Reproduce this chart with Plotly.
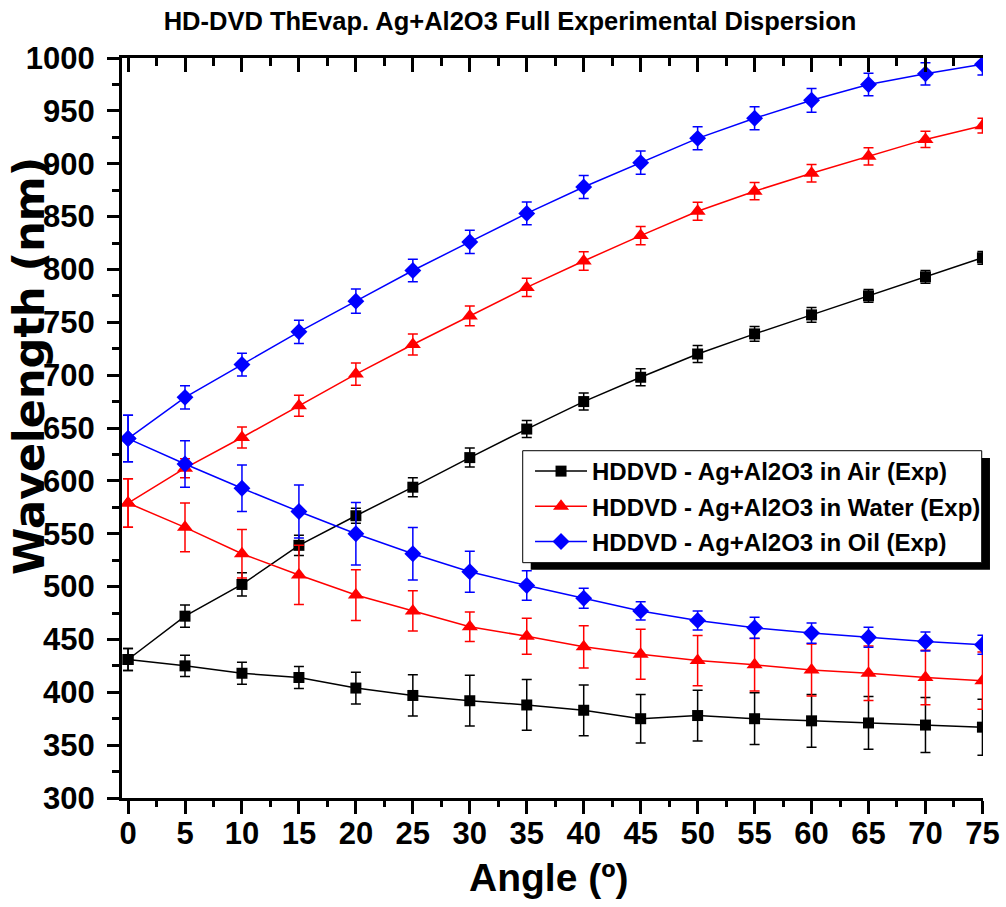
import plotly.graph_objects as go

# Angle of incidence (degrees)
angles = [0, 5, 10, 15, 20, 25, 30, 35, 40, 45, 50, 55, 60, 65, 70, 75]

# Air: upper and lower dispersion branches (nm) with error bars
air_up = [431, 472, 502, 539, 567, 594, 622, 649, 675, 698, 720, 739, 757, 775, 793, 811]
air_up_err = [10.5, 10.5, 11, 9.5, 7, 9, 9, 8, 8, 8, 8, 7, 7, 6, 6, 6]
air_lo = [431, 425, 418, 414, 404, 397, 392, 388, 383, 375, 378, 375, 373, 371, 369, 367]
air_lo_err = [10.5, 10, 10.5, 10.5, 15, 19.5, 24, 24, 24, 23, 24, 24.5, 25, 25, 26, 26.5]

# Water
water_up = [579, 612, 641, 671, 701, 729, 756, 783, 808, 832, 855, 874, 891, 907, 923, 936]
water_up_err = [23, 9, 10, 10, 10.5, 10, 9.3, 8.7, 8.7, 8.7, 8.5, 8.2, 8.2, 8.2, 7.6, 7]
water_lo = [579, 556, 531, 511, 492, 477, 462, 453, 443, 436, 430, 426, 421, 418, 414, 411]
water_lo_err = [23, 23, 23, 28, 24, 19, 14, 17, 20, 23.7, 23.7, 24.8, 24.6, 25.7, 25.7, 27]

# Oil
oil_up = [640, 679, 710, 741, 770, 799, 826, 853, 878, 901, 924, 943, 960, 975, 985, 994]
oil_up_err = [22, 11, 10.7, 11, 11.4, 10.6, 11, 10.7, 10.9, 11, 10.9, 10.9, 11.2, 10.6, 10.6, 10]
oil_lo = [640, 616, 593, 571, 550, 531, 514, 501, 489, 477, 468, 461, 456, 452, 448, 445]
oil_lo_err = [22, 22, 22, 25, 29.5, 24.8, 19.3, 14, 9.5, 8.7, 9, 10, 9.5, 9.5, 9, 9]

x_ticks = list(range(0, 80, 5))
y_ticks = list(range(300, 1050, 50))

SANS = "Liberation Sans, Arial, sans-serif"

series = [
    ("HDDVD - Ag+Al2O3 in Air (Exp)", air_up, air_up_err, air_lo, air_lo_err, "#000000", "square", 11),
    ("HDDVD - Ag+Al2O3 in Water (Exp)", water_up, water_up_err, water_lo, water_lo_err, "#FF0000", "triangle-up", 14),
    ("HDDVD - Ag+Al2O3 in Oil (Exp)", oil_up, oil_up_err, oil_lo, oil_lo_err, "#0000FF", "diamond", 13),
]

fig = go.Figure()
for name, up, up_err, lo, lo_err, color, symbol, msize in series:
    for vals, errs, show in ((up, up_err, True), (lo, lo_err, False)):
        fig.add_trace(go.Scatter(
            x=angles, y=vals, name=name, showlegend=show, legendgroup=name,
            mode="lines+markers",
            line=dict(color=color, width=1.5),
            marker=dict(symbol=symbol, size=msize, color=color, line=dict(width=0)),
            error_y=dict(type="data", array=errs, visible=True, color=color,
                         thickness=1.5, width=5),
        ))

# Empty trace so the top axis (inward ticks) is drawn
fig.add_trace(go.Scatter(x=[], y=[], xaxis="x2", showlegend=False, hoverinfo="skip"))

XR = [-0.53, 75.05]
tick_font = dict(family=SANS, size=31, color="black", weight="bold")

fig.update_layout(
    width=1006, height=907,
    margin=dict(l=122, r=23, t=58, b=109, autoexpand=False),
    paper_bgcolor="white", plot_bgcolor="white",
    showlegend=True,
    title=dict(text="HD-DVD ThEvap. Ag+Al2O3 Full Experimental Dispersion",
               x=0.507, xanchor="center", y=1 - 21 / 907, yanchor="middle",
               font=dict(family=SANS, size=25.5, color="black", weight="bold")),
    xaxis=dict(range=XR, tickmode="array", tickvals=x_ticks, ticktext=[str(v) for v in x_ticks],
               ticks="outside", ticklen=13, tickwidth=2.5, tickcolor="black",
               showline=True, linewidth=3, linecolor="black",
               showgrid=False, zeroline=False, tickfont=tick_font,
               ticklabelstandoff=-7,
               minor=dict(dtick=2.5, tick0=0, ticks="outside", ticklen=6, tickwidth=2.5,
                          tickcolor="black", showgrid=False)),
    xaxis2=dict(range=XR, overlaying="x", side="top", anchor="y",
                tickmode="array", tickvals=x_ticks, showticklabels=False,
                ticks="inside", ticklen=14, tickwidth=2.5, tickcolor="black",
                showline=True, linewidth=3, linecolor="black",
                showgrid=False, zeroline=False,
                minor=dict(dtick=2.5, tick0=0, ticks="inside", ticklen=8, tickwidth=2.5,
                           tickcolor="black", showgrid=False)),
    yaxis=dict(range=[300, 1000], tickmode="array", tickvals=y_ticks,
               ticktext=[str(v) for v in y_ticks],
               ticks="outside", ticklen=12, tickwidth=2.5, tickcolor="black",
               showline=True, linewidth=3, linecolor="black",
               showgrid=False, zeroline=False, tickfont=tick_font,
               ticklabelstandoff=6,
               minor=dict(dtick=25, tick0=300, ticks="outside", ticklen=7, tickwidth=2.5,
                          tickcolor="black", showgrid=False)),
    legend=dict(x=0.4739, y=0.4716, xanchor="left", yanchor="top",
                bgcolor="rgba(0,0,0,0)", borderwidth=0, itemwidth=52,
                font=dict(family=SANS, size=24, color="black", weight="bold"),
                tracegroupgap=1),
)

# Legend frame with drop shadow
fig.add_shape(type="rect", xref="paper", yref="paper", layer="above",
              x0=0.4747, x1=1.0081, y0=0.3086, y1=0.4595,
              fillcolor="black", line=dict(width=0))
fig.add_shape(type="rect", xref="paper", yref="paper", layer="above",
              x0=0.4654, x1=0.9985, y0=0.318, y1=0.4693,
              fillcolor="white", line=dict(color="black", width=1))

# Axis titles
fig.add_annotation(text="Angle (º)", xref="paper", yref="paper",
                   x=0.4948, y=-0.108, xanchor="center", yanchor="middle", showarrow=False,
                   font=dict(family=SANS, size=39, color="black", weight="bold"))
fig.add_annotation(text="Wavelength (nm)", xref="paper", yref="paper", textangle=-90,
                   x=-0.1080, y=0.5838, xanchor="center", yanchor="middle", showarrow=False,
                   font=dict(family="DejaVu Sans, sans-serif", size=43, color="black", weight="bold"))

fig.write_html("out.html")
